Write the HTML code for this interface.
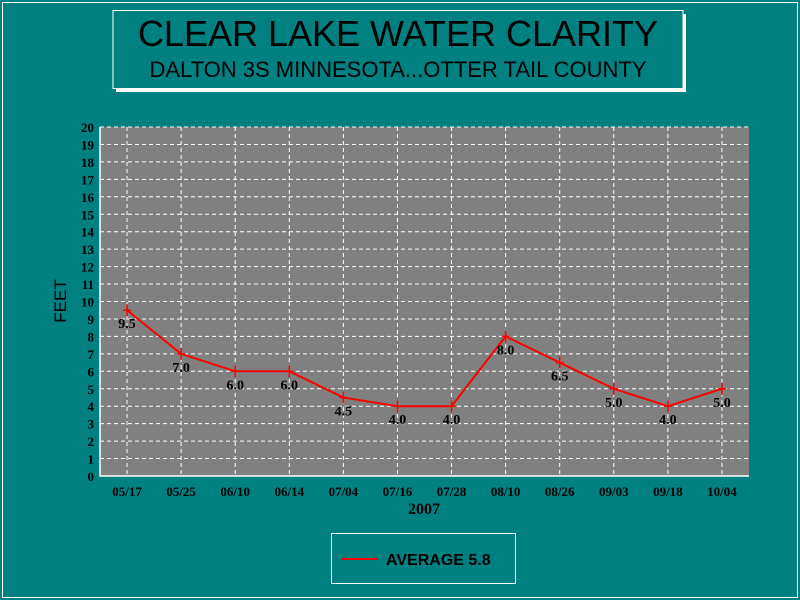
<!DOCTYPE html>
<html><head><meta charset="utf-8"><style>
body{margin:0;background:#008080;}
svg{display:block;font-family:"Liberation Serif",serif;}
</style></head><body>
<svg width="800" height="600">
<rect x="0" y="0" width="800" height="600" fill="#008080"/>
<rect x="2.5" y="2.5" width="795" height="595" fill="none" stroke="#fff" stroke-width="1"/>
<g>
<rect x="116" y="14" width="570" height="78" fill="#fff"/>
<rect x="113" y="10.5" width="570" height="78" fill="#008080" stroke="#fff" stroke-width="1"/>
<text x="398" y="46" text-anchor="middle" font-family="Liberation Sans,sans-serif" font-size="36">CLEAR LAKE WATER CLARITY</text>
<text x="398" y="77" text-anchor="middle" font-family="Liberation Sans,sans-serif" font-size="22">DALTON 3S MINNESOTA...OTTER TAIL COUNTY</text>
</g>
<g id="plot"></g>
<text x="424" y="514" text-anchor="middle" font-size="16" font-weight="bold">2007</text>
<text transform="translate(66,301) rotate(-90)" text-anchor="middle" font-family="Liberation Sans,sans-serif" font-size="17">FEET</text>
<g>
<rect x="331.5" y="533.5" width="184" height="50" fill="none" stroke="#fff"/>
<line x1="342" y1="559" x2="378" y2="559" stroke="#f00" stroke-width="2"/>
<text x="386" y="565" font-family="Liberation Sans,sans-serif" font-weight="bold" font-size="16">AVERAGE 5.8</text>
</g>
</svg>
<script>
const categories=["05/17","05/25","06/10","06/14","07/04","07/16","07/28","08/10","08/26","09/03","09/18","10/04"];
const values=[9.5,7.0,6.0,6.0,4.5,4.0,4.0,8.0,6.5,5.0,4.0,5.0];
const yTicks=[0,1,2,3,4,5,6,7,8,9,10,11,12,13,14,15,16,17,18,19,20];
const L=100,R=749,T=127,B=476,yMax=20;
const bw=(R-L)/categories.length;
const xs=i=>L+bw*(i+0.5);
const ys=v=>B-(B-T)*v/yMax;
const NS="http://www.w3.org/2000/svg";
const g=document.getElementById('plot');
function mk(t,a,p){const e=document.createElementNS(NS,t);for(const k in a)e.setAttribute(k,a[k]);(p||g).appendChild(e);return e;}
const bg=mk('rect',{x:L,y:T,width:R-L,height:B-T,fill:'#808080'});


yTicks.forEach(v=>{
  if(v>0){const l=mk('line',{x1:L,x2:R,y1:ys(v),y2:ys(v),stroke:'#fff','stroke-dasharray':'4,3'});
  
  }
  const t=mk('text',{x:L-6,y:ys(v)+5,'text-anchor':'end','font-size':'13','font-weight':'bold'});
  t.textContent=v;
  
  
});
categories.forEach((c,i)=>{
  const l=mk('line',{x1:xs(i),x2:xs(i),y1:T,y2:B,stroke:'#fff','stroke-dasharray':'4,3'});
  
  
  const t=mk('text',{x:xs(i),y:B+20,'text-anchor':'middle','font-size':'13','font-weight':'bold'});
  t.textContent=c;
  
  
});
const ax=mk('path',{d:`M${L},${T}V${B}H${R}`,fill:'none',stroke:'#fff','stroke-width':1.5});


const line=mk('polyline',{points:values.map((v,i)=>xs(i)+','+ys(v)).join(' '),fill:'none',stroke:'#f00','stroke-width':2});


values.forEach((v,i)=>{
  const m=mk('path',{d:`M${xs(i)-4},${ys(v)}h8M${xs(i)},${ys(v)-6}v12`,stroke:'#f00','stroke-width':1.5});
  
  
  const t=mk('text',{x:xs(i),y:ys(v)+18,'text-anchor':'middle','font-size':'14','font-weight':'bold'});
  t.textContent=v.toFixed(1);
  
  
});
</script>
</body></html>
